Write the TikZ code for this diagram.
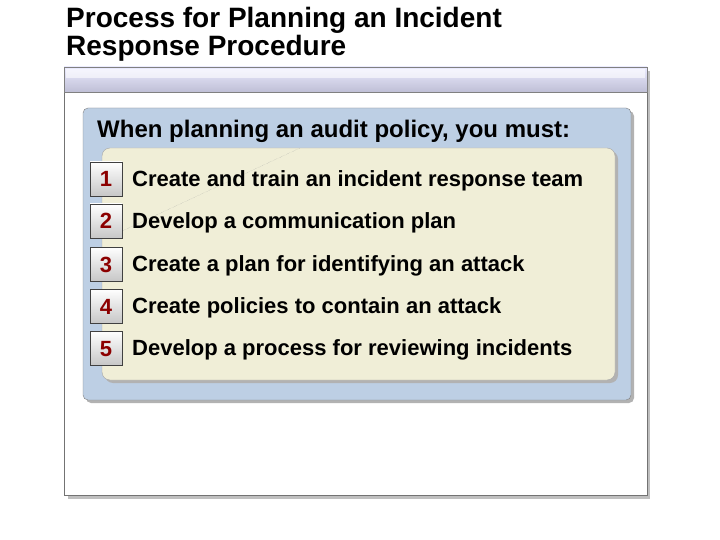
\documentclass[tikz,border=0pt]{standalone}
\usepackage{fontspec}
\setmainfont{Liberation Sans}
\begin{document}
\begin{tikzpicture}[x=1pt,y=-1pt,
  numbox/.style={draw=black!75,line width=0.8pt,minimum width=32pt,minimum height=34pt,top color=white,bottom color=black!22,inner sep=0pt,text height=16pt,text depth=0pt,font=\fontsize{22}{22}\selectfont\bfseries,text=red!55!black},
  item/.style={anchor=west,font=\fontsize{22}{22}\selectfont\bfseries,inner sep=0pt}]
\useasboundingbox (0,0) rectangle (720,540);
\node[anchor=north west,align=left,font=\fontsize{28}{28}\selectfont\bfseries,inner sep=0pt] (title) at (66,7) {Process for Planning an Incident\\Response Procedure};
% outer frame
\fill[black!25] (68,71) rectangle (650,499);
\draw[black!55,fill=white] (64,67) rectangle (647,495);
\shade[top color=blue!8,bottom color=blue!35!black!25,draw=black!50] (64,67) rectangle (647,92);
\fill[white,opacity=0.6] (66,69) rectangle (645,78);
% blue panel
\fill[black!30,rounded corners=5pt] (86,111) rectangle (634,403);
\draw[black!50,fill={rgb,255:red,189;green,207;blue,228},rounded corners=5pt] (83,108) rectangle (631,400);
\node[anchor=west,font=\fontsize{24}{24}\selectfont\bfseries,inner sep=0pt] (head) at (97,131) {When planning an audit policy, you must:};
% cream panel
\fill[black!30,rounded corners=8pt] (105,151) rectangle (618,383);
\draw[black!35,fill={rgb,255:red,240;green,238;blue,215},rounded corners=8pt] (102,148) rectangle (615,380);
\draw[black!40,densely dotted,line width=0.3pt] (120,232) -- (300,148);
\foreach \n/\y/\t in {1/179/Create and train an incident response team,
                       2/221/Develop a communication plan,
                       3/264/Create a plan for identifying an attack,
                       4/306/Create policies to contain an attack,
                       5/348/Develop a process for reviewing incidents}{
  \node[numbox] (n\n) at (106,\y) {\n};
  \node[item] (t\n) at (132,\y+2) {\t};
}
\end{tikzpicture}
\end{document}
